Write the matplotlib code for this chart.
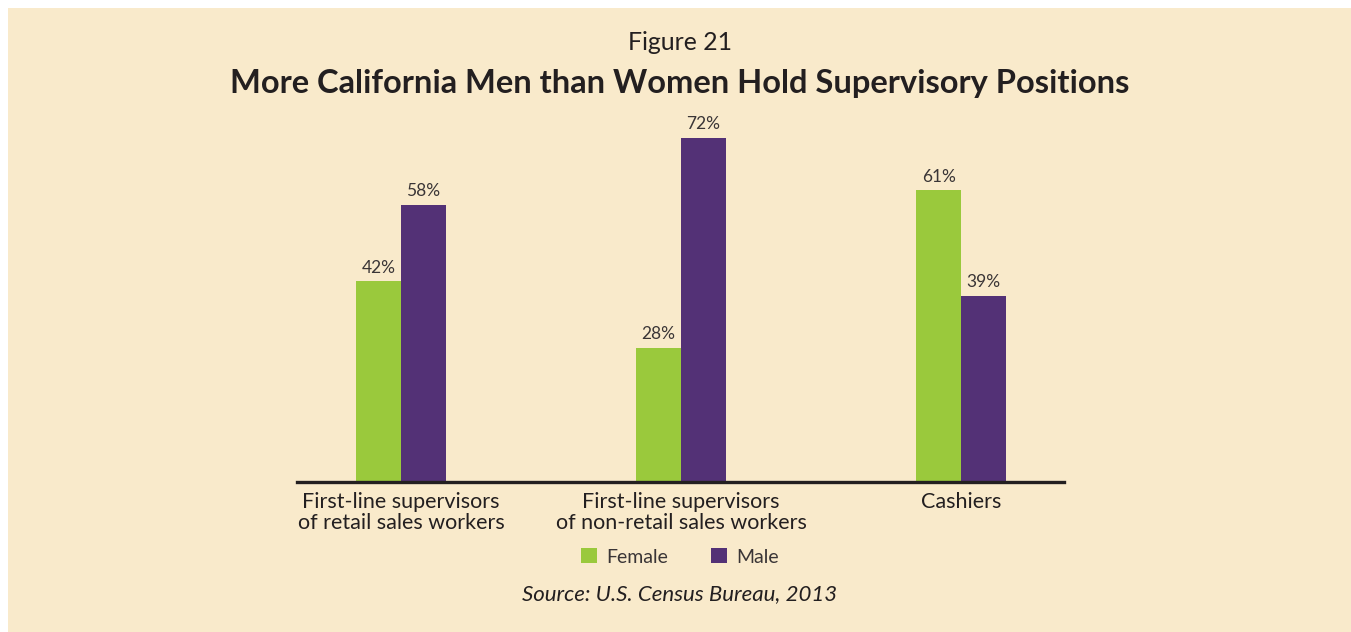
import matplotlib
matplotlib.use("Agg")
import matplotlib.pyplot as plt
from matplotlib.patches import Rectangle
import numpy as np

plt.rcParams['font.family'] = ['Lato', 'DejaVu Sans']

# data
categories = ["First-line supervisors\nof retail sales workers",
              "First-line supervisors\nof non-retail sales workers",
              "Cashiers"]
female = [42, 28, 61]
male = [58, 72, 39]
series_names = ["Female", "Male"]

bg = "#F9EACB"
green = "#9AC93C"
purple = "#533176"
ink = "#231F20"

W, H = 1351, 632
fig = plt.figure(figsize=(W / 100, H / 100), dpi=100, facecolor="white")

# beige panel with a thin white margin on top and left
fig.patches.append(Rectangle((8 / W, 0), 1 - 8 / W, 1 - 8 / H,
                             transform=fig.transFigure, facecolor=bg,
                             edgecolor="none", zorder=-10))

# axes box: baseline at y=482px, 4.78 px per percent
left, right = 297 / W, 1064 / W
bottom = 1 - 482 / H
height = 80 * 4.78 / H
ax = fig.add_axes([left, bottom, right - left, height])
ax.set_facecolor("none")

x = np.arange(len(categories))
w = 0.16
ax.bar(x - w / 2, female, w, color=green, label=series_names[0], zorder=2)
ax.bar(x + w / 2, male, w, color=purple, label=series_names[1], zorder=2)

for xi, f, m in zip(x, female, male):
    ax.text(xi - w / 2, f + 1.2, f"{f}%", ha="center", va="bottom",
            fontsize=12.5, color="#3a3536")
    ax.text(xi + w / 2, m + 1.2, f"{m}%", ha="center", va="bottom",
            fontsize=12.5, color="#3a3536")

ax.set_xlim(-104 / 280, 2 + 103 / 280)
ax.set_ylim(0, 80)
for s in ["top", "right", "left"]:
    ax.spines[s].set_visible(False)
ax.spines["bottom"].set_color(ink)
ax.spines["bottom"].set_linewidth(2.4)
ax.spines["bottom"].set_zorder(3)
ax.set_yticks([])
ax.set_xticks(x)
ax.set_xticklabels(categories, fontsize=15.5, color=ink, linespacing=1.05)
ax.tick_params(axis="x", length=0, pad=7)

fig.text(680 / W, 1 - 43 / H, "Figure 21", ha="center", va="center",
         fontsize=17.9, color=ink)
fig.text(680 / W, 1 - 83 / H, "More California Men than Women Hold Supervisory Positions",
         ha="center", va="center", fontsize=23.5, fontweight="bold", color=ink)

fig.legend(loc="center", bbox_to_anchor=(680 / W, 1 - 557 / H), ncol=2,
           frameon=False, fontsize=14, handlelength=0.8, handleheight=0.8,
           handletextpad=0.5, columnspacing=2.2, labelcolor="#3a3536")

fig.text(680 / W, 1 - 594 / H, "Source: U.S. Census Bureau, 2013", ha="center",
         va="center", fontsize=16, style="italic", color=ink)

fig.savefig("out.png", dpi=100, facecolor="white")
